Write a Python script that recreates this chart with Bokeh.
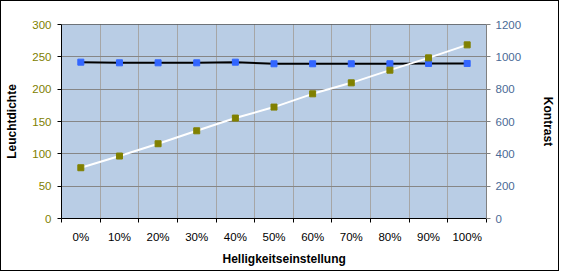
import numpy as np
from bokeh.plotting import figure
from bokeh.models import Range1d, LinearAxis, FixedTicker, Span, Title
from bokeh.embed import file_html
from bokeh.resources import INLINE

categories = ["0%", "10%", "20%", "30%", "40%", "50%", "60%", "70%", "80%", "90%", "100%"]
leuchtdichte = [78.5, 96.6, 115.6, 135.6, 155.3, 172.3, 192.8, 209.8, 229.4, 248.4, 268.5]
kontrast = [967, 963, 963, 963, 967, 957, 957, 957, 957, 959, 959]
left_ticks = [0, 50, 100, 150, 200, 250, 300]
right_ticks = [0, 200, 400, 600, 800, 1000, 1200]

x = list(range(len(categories)))
n = len(categories)

FONT = "Liberation Sans"

p = figure(width=559, height=271, output_backend="svg", toolbar_location=None,
           x_range=Range1d(-0.5, n - 0.5), y_range=Range1d(left_ticks[0], left_ticks[-1]),
           min_border_left=60, min_border_right=74, min_border_top=23, min_border_bottom=54)
p.styles = {"border": "1px solid black"}
p.background_fill_color = "#B9CDE5"
p.border_fill_color = "white"
p.outline_line_color = None

p.extra_y_ranges = {"k": Range1d(right_ticks[0], right_ticks[-1])}

# x axis
xa = p.xaxis[0]
xa.ticker = FixedTicker(ticks=x, minor_ticks=[i - 0.5 for i in range(n + 1)])
xa.major_label_overrides = {i: c for i, c in enumerate(categories)}
xa.major_tick_out = 0
xa.major_tick_in = 0
xa.minor_tick_out = 4
xa.minor_tick_in = 0
xa.minor_tick_line_color = "black"
xa.minor_tick_line_width = 1
xa.axis_line_color = "black"
xa.major_label_text_font = FONT
xa.major_label_text_font_size = "11.5px"
xa.major_label_text_color = "black"
xa.major_label_standoff = 8

# left axis
ya = p.yaxis[0]
ya.ticker = FixedTicker(ticks=left_ticks)
ya.axis_line_color = "black"
ya.major_tick_line_color = "black"
ya.major_tick_out = 4
ya.major_tick_in = 0
ya.minor_tick_line_color = None
ya.major_label_text_font = FONT
ya.major_label_text_font_size = "11.5px"
ya.major_label_text_color = "#808000"
ya.major_label_standoff = 6
ya.axis_label = "Leuchtdichte"
ya.axis_label_text_font = FONT
ya.axis_label_text_font_style = "bold"
ya.axis_label_text_font_size = "12px"
ya.axis_label_text_color = "black"
ya.axis_label_standoff = 10

# right axis
ra = LinearAxis(y_range_name="k", ticker=FixedTicker(ticks=right_ticks))
ra.axis_line_color = "#808080"
ra.major_tick_line_color = "#808080"
ra.major_tick_out = 4
ra.major_tick_in = 0
ra.minor_tick_line_color = None
ra.major_label_text_font = FONT
ra.major_label_text_font_size = "11.5px"
ra.major_label_text_color = "#4A6A96"
ra.major_label_standoff = 5
ra.axis_label = "Kontrast"
ra.axis_label_text_font = FONT
ra.axis_label_text_font_style = "bold"
ra.axis_label_text_font_size = "12px"
ra.axis_label_text_color = "black"
ra.axis_label_standoff = 17
p.add_layout(ra, "right")

# grids
p.ygrid.ticker = FixedTicker(ticks=left_ticks)
p.ygrid.grid_line_color = "#868686"
p.xgrid.grid_line_color = None
p.xgrid.minor_grid_line_color = "#A6A6A6"

p.add_layout(Span(location=left_ticks[-1], dimension="width", line_color="black", line_width=1))

# series
p.line(x, kontrast, y_range_name="k", line_color="black", line_width=2)
p.scatter(x, kontrast, y_range_name="k", marker="square", size=6,
          fill_color="#3366FF", line_color="#3366FF")
p.line(x, leuchtdichte, line_color="white", line_width=2)
p.scatter(x, leuchtdichte, marker="square", size=6,
          fill_color="#808000", line_color="#808000")

# x axis title
p.add_layout(Title(text="Helligkeitseinstellung", align="left", offset=161, standoff=9,
                   text_font=FONT, text_font_style="bold", text_font_size="12px",
                   text_color="black"), "below")

open("out.html", "w").write(file_html(p, INLINE))
